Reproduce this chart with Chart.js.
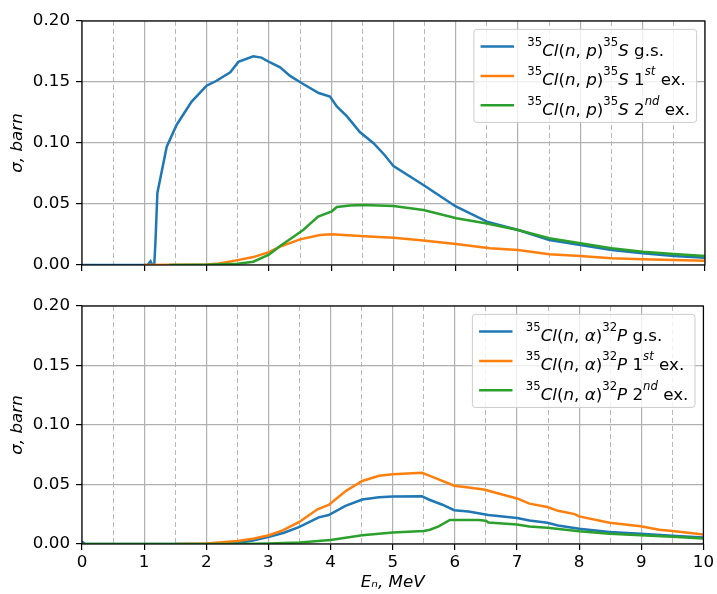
<!DOCTYPE html>
<html>
<head>
<meta charset="utf-8">
<script src="https://cdn.jsdelivr.net/npm/chart.js@4.4.1/dist/chart.umd.min.js"></script>
<style>
  body { margin: 0; background: #fff; }
  #wrap { position: relative; width: 717px; height: 594px; }
  canvas { position: absolute; left: 0; }
  #chartNp { top: 0; }
  #chartNa { top: 290px; }
</style>
</head>
<body>
<div id="wrap">
  <canvas id="chartNp" width="717" height="290"></canvas>
  <canvas id="chartNa" width="717" height="304"></canvas>
</div>
<script>
// Сечения 35Cl(n,p)35S: основное, 1-е и 2-е возбуждённые состояния
const npGsE  = [0, 1.05, 1.1, 1.13, 1.16, 1.18, 1.21, 1.36, 1.52, 1.76, 2.0, 2.16, 2.38, 2.51, 2.75, 2.88, 3.02, 3.18, 3.34, 3.53, 3.8, 3.98, 4.09, 4.25, 4.46, 4.68, 4.86, 5.0, 5.48, 6.0, 6.5, 7.0, 7.5, 8.0, 8.5, 9.0, 9.5, 10];
const npGsXs = [0, 0, 0.003, 0, 0, 0.02, 0.059, 0.097, 0.115, 0.134, 0.147, 0.151, 0.158, 0.1665, 0.171, 0.170, 0.166, 0.162, 0.155, 0.149, 0.141, 0.138, 0.130, 0.122, 0.109, 0.0998, 0.090, 0.081, 0.0656, 0.048, 0.0355, 0.0287, 0.0205, 0.0164, 0.0123, 0.0096, 0.0074, 0.006];
const np1E   = [1.0, 2.0, 2.2, 2.5, 2.75, 3.0, 3.18, 3.5, 3.82, 4.0, 4.68, 5.0, 5.48, 6.0, 6.55, 7.0, 7.5, 8.0, 8.5, 9.0, 10];
const np1Xs  = [0, 0.0005, 0.0012, 0.004, 0.0065, 0.0105, 0.015, 0.021, 0.0246, 0.0252, 0.0232, 0.0224, 0.020, 0.0172, 0.0137, 0.0123, 0.0088, 0.0074, 0.0055, 0.0047, 0.0035];
const np2E   = [1.4, 2.0, 2.5, 2.75, 3.0, 3.18, 3.39, 3.55, 3.79, 4.01, 4.09, 4.3, 4.52, 5.0, 5.48, 6.01, 6.5, 7.0, 7.5, 8.0, 8.5, 9.0, 9.5, 10];
const np2Xs  = [0, 0.0003, 0.001, 0.0027, 0.0085, 0.0155, 0.023, 0.0287, 0.0396, 0.044, 0.0475, 0.0488, 0.0492, 0.0484, 0.0451, 0.0383, 0.034, 0.0287, 0.0219, 0.0178, 0.0137, 0.0109, 0.009, 0.0074];

// Сечения 35Cl(n,α)32P
const naGsE  = [0, 0.05, 2.0, 2.5, 2.75, 3.01, 3.25, 3.49, 3.81, 3.97, 4.24, 4.51, 4.78, 5.0, 5.47, 5.58, 5.8, 5.99, 6.22, 6.54, 7.0, 7.2, 7.49, 7.66, 8.0, 8.49, 8.99, 9.5, 10];
const naGsXs = [0.002, 0, 0, 0.0008, 0.003, 0.006, 0.0095, 0.0142, 0.0224, 0.0243, 0.032, 0.0374, 0.0393, 0.0399, 0.0402, 0.0374, 0.033, 0.0284, 0.0273, 0.0243, 0.0219, 0.0197, 0.0178, 0.0156, 0.0128, 0.0101, 0.0087, 0.007, 0.0055];
const na1E   = [1.5, 2.0, 2.5, 2.75, 3.01, 3.23, 3.49, 3.79, 3.97, 4.24, 4.51, 4.78, 5.0, 5.47, 5.63, 5.99, 6.22, 6.49, 6.54, 7.0, 7.2, 7.49, 7.66, 7.93, 8.0, 8.49, 8.99, 9.29, 9.5, 10];
const na1Xs  = [0, 0.0005, 0.0025, 0.0045, 0.0074, 0.0115, 0.0183, 0.0292, 0.0328, 0.0443, 0.053, 0.0574, 0.0587, 0.0598, 0.0566, 0.049, 0.0475, 0.0456, 0.0448, 0.0383, 0.0339, 0.0311, 0.0279, 0.0251, 0.0232, 0.0178, 0.015, 0.012, 0.011, 0.0079];
const na2E   = [0, 2.5, 3.0, 3.5, 4.0, 4.51, 5.0, 5.5, 5.6, 5.74, 5.92, 6.38, 6.5, 6.54, 7.0, 7.2, 7.49, 8.0, 8.49, 8.99, 9.5, 10];
const na2Xs  = [0, 0, 0.0005, 0.0012, 0.0033, 0.0074, 0.0096, 0.011, 0.012, 0.0148, 0.0202, 0.0202, 0.0195, 0.018, 0.0164, 0.0148, 0.0137, 0.0107, 0.0087, 0.0074, 0.006, 0.0047];

// Подписи легенд ($...$ — формула, ^{...} — верхний индекс)
const labelsNp = ['$^{35}Cl(n, p)^{35}S$ g.s.', '$^{35}Cl(n, p)^{35}S$ $1^{st}$ ex.', '$^{35}Cl(n, p)^{35}S$ $2^{nd}$ ex.'];
const labelsNa = ['$^{35}Cl(n, α)^{32}P$ g.s.', '$^{35}Cl(n, α)^{32}P$ $1^{st}$ ex.', '$^{35}Cl(n, α)^{32}P$ $2^{nd}$ ex.'];

// Деления осей
const xMajor = [0, 1, 2, 3, 4, 5, 6, 7, 8, 9, 10];
const xMinor = [0.5, 1.5, 2.5, 3.5, 4.5, 5.5, 6.5, 7.5, 8.5, 9.5];
const yTicks = [0, 0.05, 0.10, 0.15, 0.20];

const COLORS = ['#1f77b4', '#ff7f0e', '#2ca02c'];
const FS = 16.7;
Chart.defaults.font.family = '"DejaVu Sans"';
Chart.defaults.font.size = FS;
Chart.defaults.color = '#000';

// Разбор подписи на куски: курсив / верхний индекс
function parseMath(label) {
    const segs = [];
    let math = false, sup = false;
    for (let i = 0; i < label.length; i++) {
        const ch = label[i];
        if (ch === '$') { math = !math; continue; }
        if (math && ch === '^' && label[i + 1] === '{') { sup = true; i++; continue; }
        if (sup && ch === '}') { sup = false; continue; }
        const italic = math && /[A-Za-zα-ω]/.test(ch);
        const last = segs[segs.length - 1];
        if (last && last.italic === italic && last.sup === sup) last.text += ch;
        else segs.push({ text: ch, italic, sup });
    }
    return segs;
}

function setSegFont(ctx, s) {
    ctx.font = (s.italic ? 'italic ' : '') + (s.sup ? FS * 0.7 : FS) + 'px "DejaVu Sans"';
}

function richWidth(ctx, segs) {
    let w = 0;
    segs.forEach(s => { setSegFont(ctx, s); w += ctx.measureText(s.text).width; });
    return w;
}

function drawRich(ctx, segs, x, y) {
    segs.forEach(s => {
        setSegFont(ctx, s);
        ctx.fillText(s.text, x, s.sup ? y - FS * 0.6 : y);
        x += ctx.measureText(s.text).width;
    });
}

// Легенда в правом верхнем углу
const mathLegend = {
    id: 'mathLegend',
    afterDraw(chart) {
        const { ctx, chartArea: a } = chart;
        const rows = chart.data.datasets.map(ds => ({ color: ds.borderColor, segs: parseMath(ds.label) }));
        ctx.save();
        const textW = Math.max(...rows.map(r => richWidth(ctx, r.segs)));
        const pad = 0.4 * FS, hl = 2 * FS, hp = 0.8 * FS, rowH = 21, gap = 0.5 * FS;
        const w = pad + hl + hp + textW + pad;
        const h = 2 * pad + rows.length * rowH + (rows.length - 1) * gap;
        const x0 = a.right - 0.5 * FS - w, y0 = a.top + 0.5 * FS;
        ctx.beginPath();
        ctx.roundRect(x0, y0, w, h, 3);
        ctx.fillStyle = 'rgba(255,255,255,0.8)';
        ctx.fill();
        ctx.strokeStyle = '#cccccc';
        ctx.lineWidth = 1;
        ctx.stroke();
        rows.forEach((r, i) => {
            const cy = y0 + pad + rowH / 2 + i * (rowH + gap);
            ctx.strokeStyle = r.color;
            ctx.lineWidth = 2.5;
            ctx.beginPath();
            ctx.moveTo(x0 + pad, cy);
            ctx.lineTo(x0 + pad + hl, cy);
            ctx.stroke();
            ctx.fillStyle = '#000';
            ctx.textBaseline = 'alphabetic';
            drawRich(ctx, r.segs, x0 + pad + hl + hp, cy + 9.5);
        });
        ctx.restore();
    }
};

// Рамка вокруг области графика
const frame = {
    id: 'frame',
    afterDatasetsDraw(chart) {
        const { ctx, chartArea: a } = chart;
        ctx.save();
        ctx.strokeStyle = '#000';
        ctx.lineWidth = 1.2;
        ctx.strokeRect(a.left, a.top, a.right - a.left, a.bottom - a.top);
        ctx.restore();
    }
};

function setTicks(list) {
    return scale => { scale.ticks = list.map(v => ({ value: v })); };
}

function makePanel(id, series, labels, withXLabels, padTop) {
    const datasets = series.map((sr, k) => ({
        label: labels[k],
        data: sr[0].map((e, i) => ({ x: e, y: sr[1][i] })),
        borderColor: COLORS[k],
        borderWidth: 2.5,
        pointRadius: 0,
        tension: 0,
        fill: false,
        clip: 0,
        order: 3 - k,
        xAxisID: 'x',
        yAxisID: 'y'
    }));

    return new Chart(document.getElementById(id), {
        type: 'line',
        data: { datasets },
        options: {
            responsive: false,
            animation: false,
            layout: { padding: { top: padTop, right: 12, left: 0, bottom: 0 } },
            plugins: { legend: { display: false }, tooltip: { enabled: false } },
            scales: {
                x: {
                    type: 'linear', position: 'bottom', min: 0, max: 10,
                    afterBuildTicks: setTicks(xMajor),
                    afterFit: s => { s.height = withXLabels ? 50 : 25; },
                    grid: { color: '#b0b0b0', lineWidth: 1.2, tickColor: '#000', tickLength: 6, tickWidth: 1.2 },
                    border: { display: false },
                    ticks: { display: withXLabels, padding: 3, callback: v => String(v) },
                    title: { display: withXLabels, text: 'Eₙ, MeV', font: { style: 'italic' }, padding: { top: 0, bottom: 1 } }
                },
                xHalf: {
                    type: 'linear', position: 'top', min: 0, max: 10,
                    afterBuildTicks: setTicks(xMinor),
                    afterFit: s => { s.height = 0; },
                    grid: { color: '#b8b8b8', lineWidth: 1, drawTicks: false },
                    border: { display: false, dash: [5, 3] },
                    ticks: { display: false }
                },
                y: {
                    type: 'linear', min: 0, max: 0.2,
                    afterBuildTicks: setTicks(yTicks),
                    afterFit: s => { s.width = 82; },
                    grid: { color: '#b0b0b0', lineWidth: 1.2, tickColor: '#000', tickLength: 6, tickWidth: 1.2 },
                    border: { display: false },
                    ticks: { padding: 6, callback: v => v.toFixed(2) },
                    title: { display: true, text: 'σ, barn', font: { style: 'italic' }, padding: { top: 8, bottom: 0 } }
                }
            }
        },
        plugins: [frame, mathLegend]
    });
}

makePanel('chartNp', [[npGsE, npGsXs], [np1E, np1Xs], [np2E, np2Xs]], labelsNp, false, 21);
makePanel('chartNa', [[naGsE, naGsXs], [na1E, na1Xs], [na2E, na2Xs]], labelsNa, true, 10);
</script>
</body>
</html>
